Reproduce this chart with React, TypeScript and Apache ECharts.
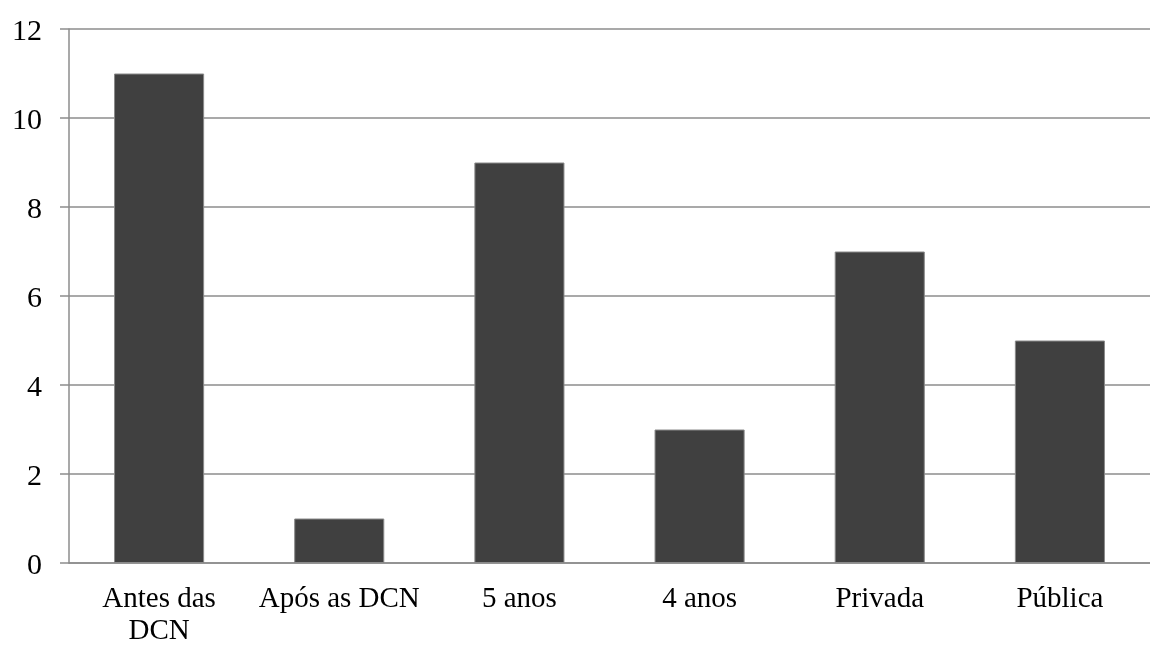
import React, { useEffect, useRef } from "react";
import * as echarts from "echarts";

const categories = ["Antes das\nDCN", "Após as DCN", "5 anos", "4 anos", "Privada", "Pública"];
const values = [11, 1, 9, 3, 7, 5];
const yTicks = { min: 0, max: 12, interval: 2 };

export default function App() {
  const ref = useRef<HTMLDivElement>(null);
  useEffect(() => {
    document.body.style.margin = "0";
    document.body.style.overflow = "hidden";
    const chart = echarts.init(ref.current!, null, { renderer: "svg" });
    const font = '"Liberation Serif", "Times New Roman", serif';
    chart.setOption({
      animation: false,
      grid: { left: 69, right: -12, top: 29, bottom: 79, containLabel: false },
      xAxis: {
        type: "category",
        data: categories,
        axisLine: { lineStyle: { color: "#8c8c8c", width: 1.5 } },
        axisTick: { show: false },
        axisLabel: { color: "#000", fontFamily: font, fontSize: 29, margin: 18, lineHeight: 32, interval: 0 },
      },
      yAxis: {
        type: "value",
        min: yTicks.min,
        max: yTicks.max,
        interval: yTicks.interval,
        axisLine: { show: true, lineStyle: { color: "#8c8c8c", width: 1.5 } },
        axisTick: { show: true, length: 9, lineStyle: { color: "#8c8c8c", width: 1.5 } },
        splitLine: { lineStyle: { color: "#8c8c8c", width: 1.5 } },
        axisLabel: { color: "#000", fontFamily: font, fontSize: 30, margin: 27 },
      },
      series: [
        {
          type: "bar",
          data: values,
          barWidth: "50%",
          itemStyle: { color: "#404040", borderColor: "#8a8a8a", borderWidth: 1 },
        },
      ],
    });
    return () => chart.dispose();
  }, []);
  return (
    <div style={{ position: "fixed", left: 0, top: 0, width: 1150, height: 645, overflow: "hidden" }}>
      <div ref={ref} style={{ width: 1150, height: 645 }} />
    </div>
  );
}
